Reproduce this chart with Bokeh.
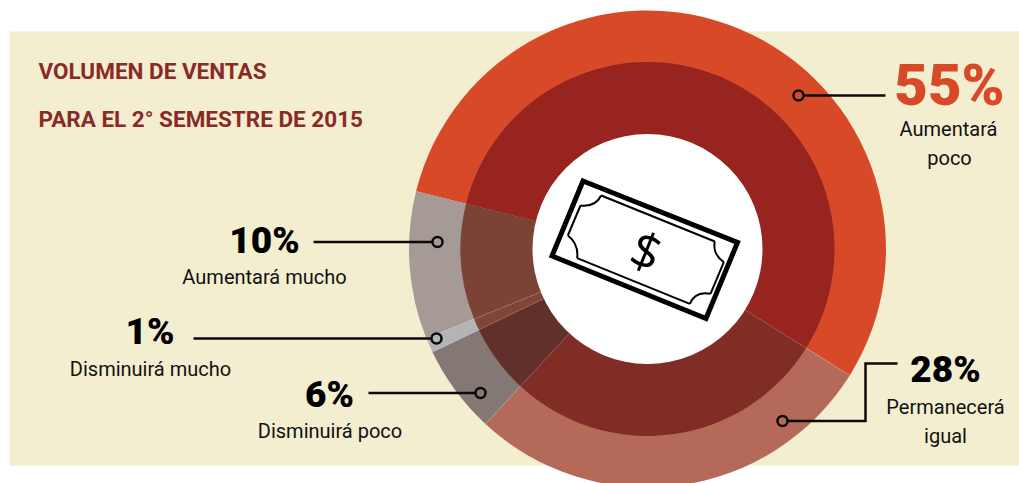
import numpy as np
from bokeh.plotting import figure
from bokeh.models import ColumnDataSource
from bokeh.core.properties import value
from bokeh.embed import file_html
from bokeh.resources import INLINE

# Data
categories = ["Aumentará poco", "Permanecerá igual", "Disminuirá poco", "Disminuirá mucho", "Aumentará mucho"]
shares = [55, 28, 6, 1, 10]
title_lines = ["VOLUMEN DE VENTAS", "PARA EL 2° SEMESTRE DE 2015"]

# Styles
outer_colors = ["#D84A27", "#B56A59", "#837874", "#B3B5B4", "#A69A97"]
inner_colors = ["#98241F", "#802D25", "#62302A", "#804537", "#7C4236"]
PANEL = "#F4EED0"
TITLE = "#8A2A27"
FONT = value("Roboto")
HEAVY = value("Roboto Black")
DROP = 0.33  # the SVG text sits this many em below the requested baseline

W, H = 1019, 483
def Y(py):
    return 483 - py

p = figure(width=W, height=H, x_range=(0, 1019), y_range=(0, 483), output_backend="svg",
           toolbar_location=None, min_border=0, outline_line_color=None,
           background_fill_color="white", border_fill_color="white")
p.axis.visible = False
p.grid.visible = False

p.quad(left=[9], right=[1019], top=[Y(31)], bottom=[Y(465)], fill_color=PANEL, line_color=None)

# Donut
cx, cy = 647, Y(248.5)
START = -76.0
theta = START + np.concatenate([[0], np.cumsum(shares)]) * 3.6
start = np.radians(90 - theta[:-1])
end = np.radians(90 - theta[1:])
src = ColumnDataSource(dict(x=[cx] * 5, y=[cy] * 5, start=start, end=end,
                            outer=outer_colors, inner=inner_colors, cat=categories))
p.wedge("x", "y", radius=238.5, start_angle="start", end_angle="end", direction="clock",
        fill_color="outer", line_color=None, source=src)
p.wedge("x", "y", radius=187, start_angle="start", end_angle="end", direction="clock",
        fill_color="inner", line_color=None, source=src)
rad = np.radians(90 - theta[1:-1])
p.segment(cx + 115 * np.cos(rad), cy + 115 * np.sin(rad), cx + 238 * np.cos(rad), cy + 238 * np.sin(rad),
          line_color="#FFFFFF", line_alpha=0.22, line_width=0.7)
p.circle([cx], [cy], radius=115, fill_color="white", line_color=None)

# Banknote (drawn in page pixels)
note = [(582.5, 180.5), (737, 242), (705.5, 318), (551.5, 255.5)]
p.patch([q[0] for q in note], [Y(q[1]) for q in note], fill_color="white", line_color="black",
        line_width=5, line_join="miter")
z = lambda a, b: (530 + a / 3, 160 + b / 3)
segs = [((212, 105), (553, 243)), ((580, 305), (540, 400)), ((478, 430), (140, 293)), ((112, 225), (150, 135))]
p.segment([z(*a)[0] for a, b in segs], [Y(z(*a)[1]) for a, b in segs],
          [z(*b)[0] for a, b in segs], [Y(z(*b)[1]) for a, b in segs], line_color="black", line_width=2)
curves = [((553, 243), (545, 280), (580, 305)), ((540, 400), (495, 390), (478, 430)),
          ((140, 293), (145, 250), (112, 225)), ((150, 135), (195, 140), (212, 105))]
p.quadratic([z(*a)[0] for a, c, b in curves], [Y(z(*a)[1]) for a, c, b in curves],
            [z(*b)[0] for a, c, b in curves], [Y(z(*b)[1]) for a, c, b in curves],
            [z(*c)[0] for a, c, b in curves], [Y(z(*c)[1]) for a, c, b in curves],
            line_color="black", line_width=2)
p.text([646], [Y(250)], text=["$"], angle=np.radians(-22), text_font=value("Open Sans"), text_font_size="50px",
       text_align="center", text_baseline="middle", text_color="black")

# Leaders
lead = [
    ([803, 885], [95, 95]),
    ([787, 865, 865, 897], [420.5, 420.5, 363, 363]),
    ([475, 368], [392.5, 392.5]),
    ([431, 193], [338, 338]),
    ([432, 313], [241.5, 241.5]),
]
dots = [(798, 95), (782, 420.5), (480, 392.5), (436, 338), (437, 241.5)]
p.multi_line([l[0] for l in lead], [[Y(v) for v in l[1]] for l in lead], line_color="#0A0A0A", line_width=2.5,
             line_join="miter")
p.scatter([d[0] for d in dots], [Y(d[1]) for d in dots], size=10, marker="circle",
          fill_color=None, line_color="#0A0A0A", line_width=2.5)

# Title
TS = 22.5
for t, by in zip(title_lines, [78, 125.5]):
    p.text([38], [Y(by - DROP * TS)], text=[t], text_font=FONT, text_font_style="bold", text_font_size=f"{TS}px",
           text_color=TITLE, text_align="left", text_baseline="alphabetic")

# Percentages and labels
pct_pos = [(949, 104, 58), (945, 381, 37), (329, 406, 37), (149.5, 343, 37), (264, 252, 37)]
for i, (x, by, s) in enumerate(pct_pos):
    p.text([x], [Y(by - DROP * s)], text=[f"{shares[i]}%"], text_font=HEAVY,
           text_font_size=f"{s}px", text_color=outer_colors[0] if i == 0 else "black",
           text_align="center", text_baseline="alphabetic")
lab_pos = [
    [(948, 135), (949, 164)],
    [(945, 413), (945, 442)],
    [(329.5, 437)],
    [(150, 375)],
    [(264, 283)],
]
LS = 20
for cat, pos in zip(categories, lab_pos):
    parts = cat.split(" ") if len(pos) == 2 else [cat]
    for t, (x, by) in zip(parts, pos):
        p.text([x], [Y(by - DROP * LS)], text=[t], text_font=FONT, text_font_size=f"{LS}px", text_color="#111111",
               text_align="center", text_baseline="alphabetic")

open("out.html", "w").write(file_html(p, INLINE))
